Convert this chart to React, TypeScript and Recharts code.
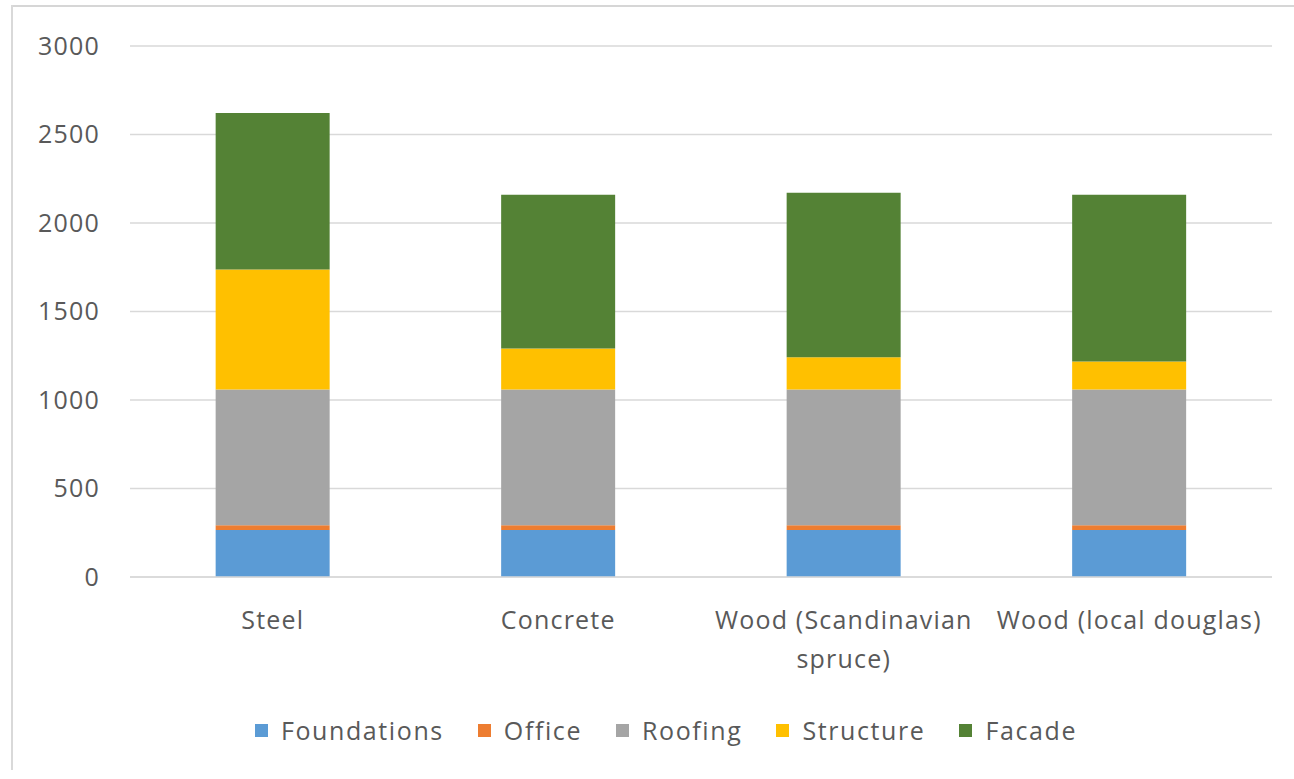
import React from 'react';
import { BarChart, Bar, XAxis, YAxis, CartesianGrid, Legend } from 'recharts';

const categories = ['Steel', 'Concrete', 'Wood (Scandinavian spruce)', 'Wood (local douglas)'];
const tickLines = [['Steel'], ['Concrete'], ['Wood (Scandinavian', 'spruce)'], ['Wood (local douglas)']];
const foundations = [265, 265, 265, 265];
const office = [28, 28, 28, 28];
const roofing = [767, 767, 767, 767];
const structure = [677, 231, 181, 158];
const facade = [885, 869, 930, 942];
const yTicks = [0, 500, 1000, 1500, 2000, 2500, 3000];

const seriesNames = ['Foundations', 'Office', 'Roofing', 'Structure', 'Facade'];
const seriesValues = [foundations, office, roofing, structure, facade];
const seriesColors = ['#5B9BD5', '#ED7D31', '#A5A5A5', '#FFC000', '#548235'];

const data = categories.map((c, i) => {
  const row: Record<string, any> = { name: c, idx: i };
  seriesNames.forEach((s, j) => { row[s] = seriesValues[j][i]; });
  return row;
});

const FONT = '"Open Sans", sans-serif';
const TEXT = '#595959';
const LS = 1.2;

const XTick = (props: any) => {
  const { x, y, index } = props;
  const lines = tickLines[index] || [String(props.payload.value)];
  return (
    <text x={x} y={y} textAnchor="middle" fill={TEXT} fontSize={25} fontFamily={FONT} letterSpacing={LS}>
      {lines.map((l, i) => (
        <tspan key={i} x={x} dy={i === 0 ? 44 : 39}>{l}</tspan>
      ))}
    </text>
  );
};

const LegendContent = () => (
  <div style={{ display: 'flex', justifyContent: 'center', alignItems: 'center', fontFamily: FONT, fontSize: 25, color: TEXT, letterSpacing: 1.6, paddingLeft: 60 }}>
    {seriesNames.map((s, i) => (
      <div key={s} style={{ display: 'flex', alignItems: 'center', marginRight: i < seriesNames.length - 1 ? 34 : 0 }}>
        <span style={{ display: 'inline-block', width: 13, height: 13, background: seriesColors[i], marginRight: 13 }} />
        <span>{s}</span>
      </div>
    ))}
  </div>
);

export default function App() {
  return (
    <div style={{ position: 'absolute', left: 0, top: 0, width: 1294, height: 770, background: '#fff', fontFamily: FONT }}>
      <BarChart
        width={1294}
        height={779}
        data={data}
        margin={{ top: 46, right: 22, left: 0, bottom: 0 }}
        barCategoryGap="30%"
        style={{ position: 'absolute', left: 0, top: 0 }}
      >
        <CartesianGrid vertical={false} stroke="#d9d9d9" strokeWidth={1.5} />
        <XAxis dataKey="name" height={142} tick={<XTick />} tickLine={false} axisLine={{ stroke: '#d9d9d9', strokeWidth: 1.5 }} interval={0} />
        <YAxis width={130} domain={[0, 3000]} ticks={yTicks} tickLine={false} axisLine={false} tickSize={0} tickMargin={30} tick={{ fill: TEXT, fontSize: 25, fontFamily: FONT, letterSpacing: LS }} />
        <Legend verticalAlign="bottom" content={<LegendContent />} wrapperStyle={{ height: 60, top: 713, bottom: 'auto' }} />
        {seriesNames.map((s, i) => (
          <Bar key={s} dataKey={s} stackId="a" fill={seriesColors[i]} isAnimationActive={false} />
        ))}
      </BarChart>
      <div style={{ position: 'absolute', left: 11, top: 5, width: 1283, height: 2, background: '#d6d6d6', zIndex: 5, pointerEvents: 'none' }} />
      <div style={{ position: 'absolute', left: 11, top: 5, width: 2, height: 765, background: '#d9d9d9', zIndex: 5, pointerEvents: 'none' }} />
    </div>
  );
}
